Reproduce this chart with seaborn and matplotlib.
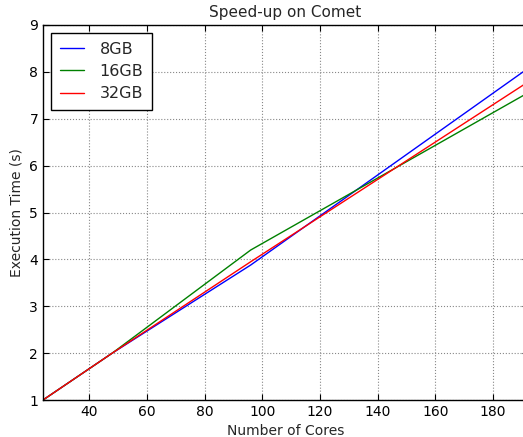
import numpy as np
import pandas as pd
import matplotlib
matplotlib.use('Agg')
import matplotlib.pyplot as plt
import seaborn as sns

# ── DATA ──────────────────────────────────────────────────────
cores      = [24, 48, 96, 192]
speed_8gb  = [1.0, 2.0, 3.88, 8.07]
speed_16gb = [1.0, 2.0, 4.20, 7.55]
speed_32gb = [1.0, 2.0, 3.95, 7.78]
labels     = ['8GB', '16GB', '32GB']
colors     = ['b', 'g', 'r']

df = pd.DataFrame({
    'Cores': cores * 3,
    'Time': speed_8gb + speed_16gb + speed_32gb,
    'Memory': [lab for lab in labels for _ in cores],
})

# ── STYLE ─────────────────────────────────────────────────────
sns.set_style('ticks')
plt.rcParams['font.family'] = ['DejaVu Sans']
plt.rcParams['xtick.direction'] = 'in'
plt.rcParams['ytick.direction'] = 'in'
plt.rcParams['xtick.top'] = True
plt.rcParams['ytick.right'] = True

fig = plt.figure(figsize=(5.23, 4.37), dpi=100)
# axes run slightly past the right edge (cropped like the original)
ax = fig.add_axes([43 / 523, 1 - 400 / 437, (527.7 - 43) / 523, 375 / 437])

sns.lineplot(data=df, x='Cores', y='Time', hue='Memory', palette=colors,
             hue_order=labels, linewidth=1.0, ax=ax)

ax.set_xlim(24, 192)
ax.set_ylim(1, 9)
ax.set_xticks(range(40, 181, 20))
ax.set_yticks(range(1, 10))
ax.tick_params(labelsize=10, length=4, width=0.8, colors='black')
ax.grid(True, linestyle=':', color='#888888', linewidth=0.8)
for sp in ax.spines.values():
    sp.set_linewidth(1.0)
    sp.set_color('black')

ax.set_title('Speed-up on Comet', fontsize=11)
ax.set_xlabel('Number of Cores', fontsize=10)
ax.set_ylabel('Execution Time (s)', fontsize=10)

leg = ax.legend(loc='upper left', fontsize=11.5, fancybox=False,
                framealpha=1, edgecolor='black', borderpad=0.55,
                handlelength=1.5, handletextpad=1.0, labelspacing=0.45)
leg.get_frame().set_linewidth(1.0)

fig.savefig('out.png', dpi=100)
